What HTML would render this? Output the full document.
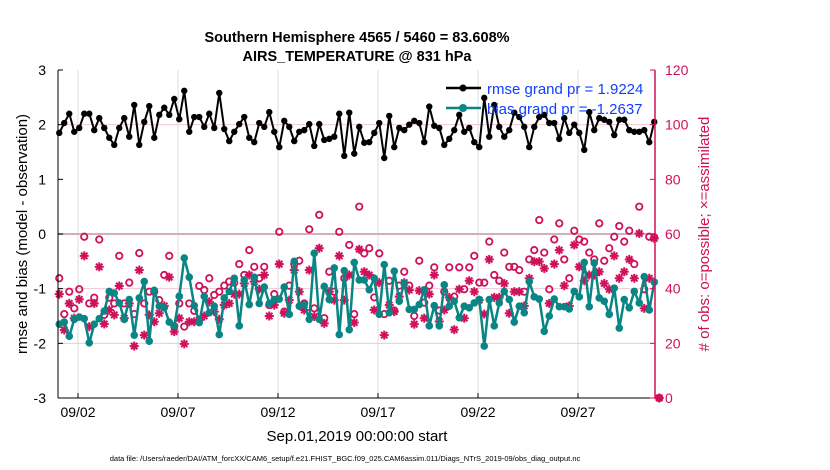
<!DOCTYPE html>
<html><head><meta charset="utf-8"><style>
body{margin:0;background:#fff;font-family:"Liberation Sans",sans-serif}
svg{display:block}
</style></head><body>
<svg id="chart" width="830" height="470" xmlns="http://www.w3.org/2000/svg">
<rect width="830" height="470" fill="#fff"/>
<g id="grid"></g>
<g id="marks"></g>
<g id="axes"></g>
<text x="357" y="42" text-anchor="middle" font-size="14.5" font-weight="bold">Southern Hemisphere 4565 / 5460 = 83.608%</text>
<text x="357" y="61" text-anchor="middle" font-size="14.5" font-weight="bold">AIRS_TEMPERATURE @ 831 hPa</text>
<text transform="translate(27,234) rotate(-90)" text-anchor="middle" font-size="15">rmse and bias (model - observation)</text>
<text transform="translate(709,234) rotate(-90)" text-anchor="middle" font-size="15" fill="#d0105a"># of obs: o=possible; ×=assimilated</text>
<text x="357" y="441" text-anchor="middle" font-size="15">Sep.01,2019 00:00:00 start</text>
<text x="345" y="461" text-anchor="middle" font-size="7.5">data file: /Users/raeder/DAI/ATM_forcXX/CAM6_setup/f.e21.FHIST_BGC.f09_025.CAM6assim.011/Diags_NTrS_2019-09/obs_diag_output.nc</text>
<g>
<g>
<line x1="446" y1="88" x2="481" y2="88" stroke="#000" stroke-width="2.5"/>
<circle cx="463" cy="88" r="3.5" fill="#000"/>
<text x="487" y="94" font-size="15" fill="#1040ff">rmse grand pr = 1.9224</text></g>
<g>
<line x1="446" y1="108" x2="481" y2="108" stroke="#0a8585" stroke-width="2.5"/>
<circle cx="463" cy="108" r="4" fill="#0a8585"/>
<text x="487" y="114" font-size="15" fill="#1040ff">bias grand pr = -1.2637</text></g>
</g>
</svg>
<script>
const rmse=[1.85,2.03,2.2,1.87,1.94,2.2,2.2,1.90,2.12,1.94,1.76,1.63,1.94,2.12,1.78,2.36,1.63,2.05,2.34,1.76,2.18,2.31,2.18,2.47,2.1,2.62,1.87,2.14,2.14,1.96,2.2,
1.94,2.58,1.92,1.70,1.87,2.01,2.14,1.76,1.68,2.03,1.96,2.23,1.87,1.59,2.07,1.96,1.70,1.87,1.90,2.01,1.61,2.01,1.72,1.74,1.78,2.2,1.43,2.22,1.47,1.96,
1.67,1.68,1.85,2.03,1.39,2.16,1.59,1.94,1.90,2.0,2.07,2.03,1.68,2.33,1.98,1.94,1.63,1.74,1.90,2.18,1.87,1.94,1.68,1.59,2.49,1.78,2.36,1.96,1.78,1.90,
2.22,2.14,1.96,1.59,1.96,2.14,2.18,2.03,2.03,1.74,2.12,1.85,2.0,1.85,1.54,2.23,1.90,2.12,2.09,2.05,1.81,2.09,2.09,1.90,1.87,1.87,1.90,1.68,2.05,null];
const bias=[-1.65,-1.61,-1.87,-1.56,-1.52,-1.55,-1.99,-1.65,-1.55,-1.41,-1.05,-1.08,-1.26,-1.56,-1.2,-1.85,-1.17,-0.87,-1.96,-1.03,-1.32,-1.35,-1.61,-1.68,-1.14,-0.44,-0.79,-1.31,-1.62,-1.14,-1.44,
-1.32,-1.84,-1.17,-1.05,-0.81,-1.68,-0.84,-1.29,-0.79,-1.27,-0.97,-1.27,-1.2,-1.19,-0.97,-1.47,-0.5,-1.32,-1.29,-1.56,-0.35,-1.56,-0.96,-1.2,-0.62,-1.84,-0.67,-1.75,-0.52,-0.84,
-0.84,-1.02,-0.81,-1.47,-0.56,-1.44,-0.68,-1.23,-0.9,-1.38,-1.38,-1.29,-1.02,-1.68,-1.31,-1.68,-0.93,-1.32,-1.23,-1.53,-1.32,-1.35,-1.26,-1.2,-2.05,-1.2,-1.68,-1.26,-1.05,-1.2,
-1.61,-1.32,-1.44,-0.87,-1.15,-1.19,-1.78,-1.5,-1.19,-1.33,-1.33,-1.37,-1.05,-1.15,-0.52,-1.33,-0.53,-1.17,-1.23,-1.47,-0.99,-1.72,-1.2,-1.35,-1.05,-1.26,-0.78,-1.39,-0.88,null];
const possible=[43.8,30.7,38.9,32.8,39.8,59,34.6,36.7,58,30.4,36.7,34.6,52,34.6,42.2,30.7,53,34.6,38.9,38.9,35.8,45,52,26.3,34.6,26.1,34.6,31.9,41,39.5,43.8,
37.7,38.9,41.1,42.6,42.2,49,45,54.1,48,43.8,48,34.0,38,60.8,31.6,41.1,49,50.2,34.6,61.7,32.8,67,29.2,46.2,38.9,60.8,43.8,56,30.7,70,
52.9,54.8,36.8,52.9,30.7,42.9,32,41.1,46.2,41.1,30.0,50.2,34.9,41.1,47.8,32,38.9,47.8,37.1,47.8,39.8,47.8,52,42.2,42.2,57.2,45,42.9,53.2,48,
48,46.8,38.9,50.7,54.1,65.1,53.2,39.8,58,63.9,50.7,43.8,61.2,58,57.2,53.2,50.7,63.9,50.2,54.8,59,62.9,57.2,61.2,49,70,39.8,59,58.8,0];
const assimilated=[38,24.9,34.6,29.2,36.1,52,26.1,34.6,48,27.1,32.2,30.4,41,29.2,34.6,19,46.8,23,30.4,27.9,31,33.7,44.2,24.3,29.2,19.8,27.9,27.9,28.5,30,35.2,
31.6,28.8,34,34.6,38,38,41.9,45,42.6,39.8,45,30.0,34,49,31,35.8,46.8,38.9,32.2,46.8,29.8,54.8,27.3,38.9,35.8,52,35.8,45,27.6,54.4,
46.2,45,32.2,42.2,23,34,31.6,37.1,42.2,39.5,27,39.3,29.2,38,45,28,32.2,36.8,25,39.8,29.2,42.9,38.9,35.8,30.7,50.7,36.8,36.8,41.9,31,
38.9,38.9,33.7,43.8,49.9,49.9,47.4,34.6,49,54.1,41.1,33.7,56,48,42.9,45,45,46.2,41.9,39.8,52,43.8,46.2,50.7,43.8,60.2,32.8,43.8,58.4,0];
const xTickLabels=["09/02","09/07","09/12","09/17","09/22","09/27"];
const xTickDays=[1,6,11,16,21,26];
const leftTicks=[3,2,1,0,-1,-2,-3];
const rightTicks=[0,20,40,60,80,100,120];

const NS="http://www.w3.org/2000/svg";
const X0=58,X1=655,Y0=70,Y1=398;
const xDay=d=>X0+d*20;            // days since Sep 1 00:00
const xIdx=i=>xDay((i+0.25)/4);   // 6-hourly samples
const yL=v=>Y1-(v+3)/6*(Y1-Y0);
const yR=c=>Y1-c/120*(Y1-Y0);
function mk(tag,attrs,parent){const e=document.createElementNS(NS,tag);for(const k in attrs)e.setAttribute(k,attrs[k]);parent.appendChild(e);return e;}
const grid=document.getElementById('grid'),marks=document.getElementById('marks'),axes=document.getElementById('axes');

xTickDays.forEach((d,i)=>{
  const l=mk('line',{x1:xDay(d),x2:xDay(d),y1:Y0,y2:Y1,stroke:'#dcdcdc','stroke-width':1},grid);
  
  
  const t=mk('text',{x:xDay(d),y:417,'text-anchor':'middle','font-size':14},axes);
  t.textContent=xTickLabels[i];
  
  
  mk('line',{x1:xDay(d),x2:xDay(d),y1:Y1,y2:Y1-5,stroke:'#000'},axes);
});
[20,40,100].forEach(c=>{
  const l=mk('line',{x1:X0,x2:X1,y1:yR(c),y2:yR(c),stroke:'#f2c6d6','stroke-width':1},grid);
  
  
});
const zl=mk('line',{x1:X0,x2:X1,y1:yL(0),y2:yL(0),stroke:'#d2b0b8','stroke-width':2},grid);



function star(cx,cy,g){const r=4.5;
  for(let a=0;a<4;a++){const th=a*Math.PI/4;mk('line',{x1:cx-r*Math.cos(th),y1:cy-r*Math.sin(th),x2:cx+r*Math.cos(th),y2:cy+r*Math.sin(th),stroke:'#d0105a','stroke-width':2},g);}}

const gP=mk('g',{},marks);


possible.forEach((c,i)=>{const e=mk('circle',{cx:xIdx(i),cy:yR(c),r:3.2,fill:'none',stroke:'#d0105a','stroke-width':1.8},gP);
  
  });
const gA=mk('g',{},marks);


assimilated.forEach((c,i)=>{star(xIdx(i),yR(c),gA);});

function series(arr,color,r,name,w){
  const g=mk('g',{},marks);
  
  
  let d='';arr.forEach((v,i)=>{if(v!==null)d+=(d?'L':'M')+xIdx(i).toFixed(1)+','+yL(v).toFixed(1);});
  mk('path',{d:d,fill:'none',stroke:color,'stroke-width':w},g);
  arr.forEach((v,i)=>{if(v===null)return;const c=mk('circle',{cx:xIdx(i),cy:yL(v),r:r,fill:color},g);
    
    });
}
series(bias,'#0a8585',3.8,'bias-series',2.5);
series(rmse,'#000',3.2,'rmse-series',2);

mk('line',{x1:X0,x2:X0,y1:Y0,y2:Y1,stroke:'#000'},axes);
mk('line',{x1:X0,x2:X1,y1:Y1,y2:Y1,stroke:'#000'},axes);
mk('line',{x1:X1,x2:X1,y1:Y0,y2:Y1,stroke:'#d0105a','stroke-width':1.5},axes);
leftTicks.forEach(v=>{
  mk('line',{x1:X0,x2:X0+5,y1:yL(v),y2:yL(v),stroke:'#000'},axes);
  const t=mk('text',{x:46,y:yL(v)+5,'text-anchor':'end','font-size':14},axes);
  t.textContent=v;
  
  
});
rightTicks.forEach(c=>{
  mk('line',{x1:X1-5,x2:X1,y1:yR(c),y2:yR(c),stroke:'#d0105a'},axes);
  const t=mk('text',{x:665,y:yR(c)+5,'text-anchor':'start','font-size':14,fill:'#d0105a'},axes);
  t.textContent=c;
  
  
});
</script>
</body></html>
